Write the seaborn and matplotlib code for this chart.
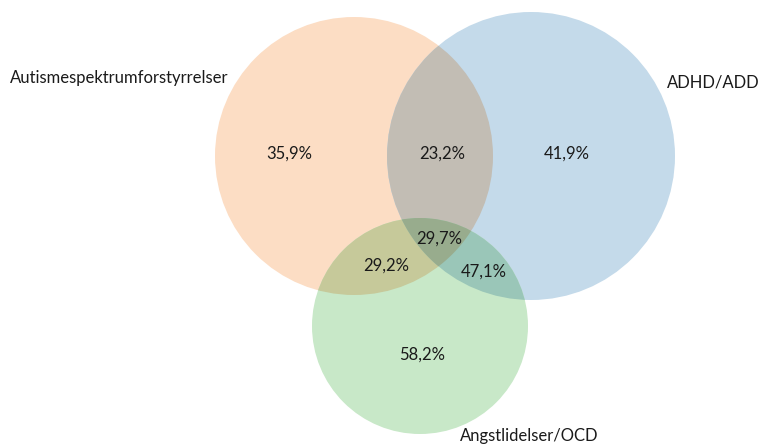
import matplotlib
matplotlib.use("Agg")
import matplotlib.pyplot as plt
import seaborn as sns
import numpy as np
from matplotlib.patches import Circle, Polygon

# Data
set_names = ["Autismespektrumforstyrrelser", "ADHD/ADD", "Angstlidelser/OCD"]
region_names = ["Autisme", "Autisme&ADHD", "ADHD", "Alle", "Autisme&Angst", "ADHD&Angst", "Angst"]
region_values = [35.9, 23.2, 41.9, 29.7, 29.2, 47.1, 58.2]

# Layout (pixel-like coordinates)
circle_centers = [(354, 156), (531, 156), (420, 326)]
circle_radii = [139, 144, 108]
circle_rgb = [(252, 221, 196), (196, 218, 234), (200, 232, 200)]
set_label_pos = [(10, 78, "left"), (760, 82, "right"), (460, 436, "left")]
region_pos = [(289, 154), (442, 154), (567, 154), (439, 239), (386, 266), (484, 272), (422, 355)]

sns.set_theme(style="white")
plt.rcParams['font.family'] = ['Lato', 'DejaVu Sans']

fig = plt.figure(figsize=(7.62, 4.44), dpi=100)
ax = fig.add_axes([0, 0, 1, 1])
ax.set_xlim(0, 762)
ax.set_ylim(444, 0)
ax.set_aspect('equal')
ax.axis('off')


def mult(*cols):
    out = np.ones(3)
    for c in cols:
        out = out * np.array(c) / 255.0
    return tuple(out)


def circ(i, color, **kw):
    p = Circle(circle_centers[i], circle_radii[i], facecolor=color, edgecolor='none', **kw)
    ax.add_patch(p)
    return p


# base circles
base = [circ(i, mult(circle_rgb[i])) for i in range(3)]

# pairwise overlaps (multiply blend)
for i, j in [(0, 1), (0, 2), (1, 2)]:
    p = circ(j, mult(circle_rgb[i], circle_rgb[j]))
    p.set_clip_path(base[i])

# triple overlap: lens of circles 0 and 1, clipped to circle 2
def lens(i, j, n=720):
    pts = []
    for a, b in [(i, j), (j, i)]:
        cx, cy = circle_centers[a]
        r = circle_radii[a]
        t = np.linspace(0, 2 * np.pi, n, endpoint=False)
        x, y = cx + r * np.cos(t), cy + r * np.sin(t)
        ox, oy = circle_centers[b]
        m = (x - ox) ** 2 + (y - oy) ** 2 <= circle_radii[b] ** 2
        pts.append(np.column_stack([x[m], y[m]]))
    pts = np.vstack(pts)
    c = pts.mean(axis=0)
    order = np.argsort(np.arctan2(pts[:, 1] - c[1], pts[:, 0] - c[0]))
    return pts[order]

tri = Polygon(lens(0, 1), closed=True, facecolor=mult(*circle_rgb), edgecolor='none')
ax.add_patch(tri)
tri.set_clip_path(base[2])

for name, (x, y, ha) in zip(set_names, set_label_pos):
    ax.text(x, y, name, ha=ha, va='center', fontsize=12, color='#1a1a1a')

for v, (x, y) in zip(region_values, region_pos):
    ax.text(x, y, f"{v:.1f}%".replace('.', ','), ha='center', va='center', fontsize=12, color='#1a1a1a')

fig.savefig("out.png", dpi=100)
